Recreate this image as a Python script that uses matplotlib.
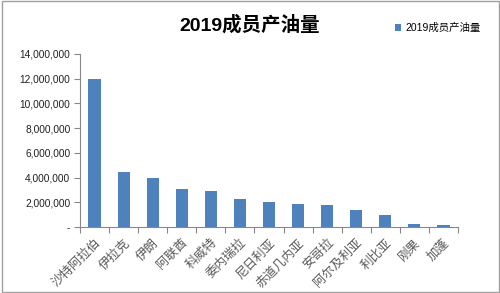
import matplotlib
matplotlib.use("Agg")
import matplotlib.pyplot as plt
from matplotlib.ticker import FuncFormatter
from matplotlib.patches import Rectangle

plt.rcParams['font.family'] = ['Liberation Sans', 'Noto Sans CJK SC', 'DejaVu Sans']

categories = ['沙特阿拉伯', '伊拉克', '伊朗', '阿联酋', '科威特', '委内瑞拉', '尼日利亚',
              '赤道几内亚', '安哥拉', '阿尔及利亚', '利比亚', '刚果', '加蓬']
values = [12000000, 4450000, 3970000, 3080000, 2920000, 2270000, 2000000,
          1840000, 1760000, 1350000, 970000, 240000, 170000]
series_name = '2019成员产油量'
title = '2019成员产油量'
yticks = [0, 2000000, 4000000, 6000000, 8000000, 10000000, 12000000, 14000000]

fig = plt.figure(figsize=(5.0, 2.93), dpi=100)
ax = fig.add_axes([0.16, 0.225, 0.756, 0.591])

x = list(range(len(categories)))
ax.bar(x, values, width=0.42, color='#4F81BD', label=series_name, zorder=3)

ax.set_xlim(-0.5, len(categories) - 0.5)
ax.set_ylim(0, 14000000)
ax.set_yticks(yticks)
ax.yaxis.set_major_formatter(FuncFormatter(lambda v, p: '-' if v == 0 else f'{int(v):,}'))
ax.set_xticks(x)
ax.set_xticklabels(categories, rotation=45, ha='right', rotation_mode='anchor',
                   fontsize=9, color='#595959')
ax.set_xticks([i - 0.5 for i in range(len(categories) + 1)], minor=True)
ax.tick_params(axis='x', which='major', length=0, pad=7)
ax.tick_params(axis='x', which='minor', length=4, color='#888888', width=0.8)
ax.tick_params(axis='y', length=4, color='#888888', width=0.8, labelsize=7.3, labelcolor='#202020', pad=3)

for s in ['top', 'right']:
    ax.spines[s].set_visible(False)
for s in ['left', 'bottom']:
    ax.spines[s].set_color('#888888')
    ax.spines[s].set_linewidth(0.8)

fig.text(0.5, 0.915, title, ha='center', va='center', fontsize=14, fontweight='bold',
         family=['Liberation Sans', 'Noto Sans CJK SC'])

leg = fig.legend(loc='center', bbox_to_anchor=(0.875, 0.905), frameon=False, fontsize=7.5,
                 handlelength=0.6, handleheight=0.6, handletextpad=0.4)

fig.patches.append(Rectangle((0.003, 0.005), 0.994, 0.99, transform=fig.transFigure,
                             fill=False, edgecolor='#A0A0A0', linewidth=1.0))

fig.savefig('out.png', dpi=100)
